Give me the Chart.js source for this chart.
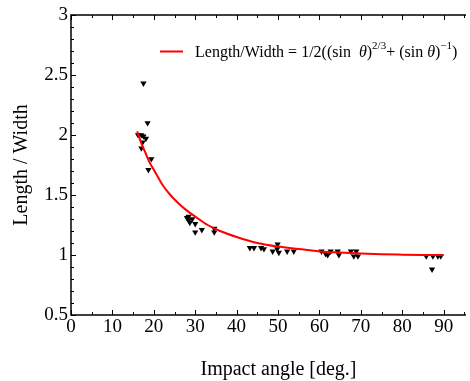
<!DOCTYPE html>
<html><head><meta charset="utf-8">
<script src="https://cdn.jsdelivr.net/npm/chart.js@4.4.0/dist/chart.umd.min.js"></script>
<style>html,body{margin:0;padding:0;background:#fff;}#wrap{width:470px;height:381px;}</style>
</head><body><div id="wrap"><canvas id="c" width="470" height="381"></canvas></div>
<script>
// Measured points (impact angle in degrees, length/width ratio)
const angles = [16.2,17.0,17.5,18.1,17.3,17.0,17.5,18.5,19.4,18.7,
  28.0,28.4,28.4,28.7,29.3,30.0,30.0,31.6,34.6,34.6,
  43.2,44.2,45.9,46.6,48.7,49.9,49.8,50.2,52.2,53.8,
  60.5,61.5,62.0,62.7,64.4,64.7,67.6,68.9,68.3,69.3,
  85.8,87.4,88.6,89.3,87.2];
const ratios = [2.00,2.00,1.99,1.97,1.94,1.89,2.43,2.10,1.80,1.71,
  1.31,1.32,1.29,1.27,1.30,1.26,1.19,1.21,1.22,1.19,
  1.06,1.06,1.06,1.05,1.03,1.09,1.05,1.02,1.03,1.03,
  1.03,1.01,1.00,1.03,1.03,1.00,1.03,1.03,0.99,0.99,
  0.99,0.99,0.99,0.99,0.88];
// Fitted curve
const fitAngles = [16,17,18,19,20,21,22,24,26,28,30,33,36,40,45,50,55,60,65,70,75,80,85,90];
const fitRatios = [2.03,1.93,1.85,1.77,1.71,1.65,1.59,1.50,1.43,1.37,1.32,1.25,1.20,1.15,1.10,1.07,1.05,1.03,1.02,1.012,1.006,1.003,1.001,1.00];
const xTickValues = [0,10,20,30,40,50,60,70,80,90];
const yTickValues = [0.5,1,1.5,2,2.5,3];
const xTitle = 'Impact angle [deg.]';
const yTitle = 'Length / Width';

const FONT = '"Liberation Serif", "Times New Roman", serif';

const framePlugin = {
  id: 'frame',
  beforeDatasetsDraw(chart) {
    const ctx = chart.ctx, a = chart.chartArea;
    const xs = chart.scales.x, ys = chart.scales.y;
    ctx.save();
    ctx.strokeStyle = '#000';
    ctx.lineWidth = 1;
    ctx.beginPath();
    for (let v = 0; v <= xs.max + 0.001; v += 5) {
      const px = Math.round(xs.getPixelForValue(v)) + 0.5;
      const len = (v % 10 === 0) ? 5 : 3;
      ctx.moveTo(px, a.bottom); ctx.lineTo(px, a.bottom - len);
      ctx.moveTo(px, a.top); ctx.lineTo(px, a.top + len);
    }
    for (let i = 5; i <= 30; i++) {
      const v = i / 10;
      const py = Math.round(ys.getPixelForValue(v)) + 0.5;
      const len = (i % 5 === 0) ? 5 : 3;
      ctx.moveTo(a.left, py); ctx.lineTo(a.left + len, py);
    }
    ctx.stroke();
    ctx.lineWidth = 1.5;
    ctx.beginPath();
    ctx.moveTo(a.right, a.top); ctx.lineTo(a.left, a.top);
    ctx.lineTo(a.left, a.bottom); ctx.lineTo(a.right, a.bottom);
    ctx.stroke();
    ctx.fillStyle = '#000';
    ctx.font = '20px ' + FONT;
    ctx.textAlign = 'center';
    ctx.textBaseline = 'middle';
    ctx.fillText(xTitle, 278.5, 370);
    ctx.restore();
  },
  afterDraw(chart) {
    const ctx = chart.ctx;
    ctx.save();
    ctx.strokeStyle = '#ff0000';
    ctx.lineWidth = 2;
    ctx.beginPath(); ctx.moveTo(160, 51.5); ctx.lineTo(183, 51.5); ctx.stroke();
    ctx.fillStyle = '#000';
    ctx.textBaseline = 'alphabetic';
    ctx.textAlign = 'left';
    const base = 57, sup = 49;
    const segs = [
      ['Length/Width = 1/2((sin  ', 'n', base],
      ['θ', 'i', base],
      [')', 'n', base],
      ['2/3', 's', sup],
      ['+ (sin ', 'n', base],
      ['θ', 'i', base],
      [')', 'n', base],
      ['−1', 's', sup],
      [')', 'n', base]
    ];
    let x = 195;
    for (const [t, st, y] of segs) {
      if (st === 'n') ctx.font = '16px ' + FONT;
      else if (st === 'i') ctx.font = 'italic 16px ' + FONT;
      else ctx.font = '11px ' + FONT;
      ctx.fillText(t, x, y);
      x += ctx.measureText(t).width;
    }
    ctx.restore();
  }
};

new Chart(document.getElementById('c'), {
  type: 'scatter',
  data: {
    datasets: [
      {
        label: 'fit',
        data: fitAngles.map((a, i) => ({x: a, y: fitRatios[i]})),
        showLine: true,
        borderColor: '#ff0000',
        borderWidth: 2,
        pointRadius: 0,
        cubicInterpolationMode: 'monotone',
        fill: false
      },
      {
        label: 'data',
        data: angles.map((a, i) => ({x: a, y: ratios[i]})),
        pointStyle: 'triangle',
        rotation: 180,
        pointRadius: 3.6,
        backgroundColor: '#000',
        borderColor: '#000',
        borderWidth: 0
      }
    ]
  },
  options: {
    responsive: false,
    animation: false,
    devicePixelRatio: 1,
    layout: {padding: {top: 15, right: 0, left: 0, bottom: 0}},
    plugins: {legend: {display: false}, tooltip: {enabled: false}},
    scales: {
      x: {
        type: 'linear', min: 0, max: 95.4,
        afterBuildTicks: s => { s.ticks = xTickValues.map(v => ({value: v})); },
        afterFit: s => { s.height = 66; },
        grid: {display: false, drawTicks: false},
        border: {display: false},
        ticks: {color: '#000', font: {family: FONT, size: 19}, padding: 1, maxRotation: 0, autoSkip: false},
        title: {display: false}
      },
      y: {
        type: 'linear', min: 0.5, max: 3,
        afterBuildTicks: s => { s.ticks = yTickValues.map(v => ({value: v})); },
        afterFit: s => { s.width = 71; },
        grid: {display: false, drawTicks: false},
        border: {display: false},
        ticks: {color: '#000', font: {family: FONT, size: 19}, padding: 3, autoSkip: false,
          callback: v => String(v)},
        title: {display: true, text: yTitle, color: '#000', font: {family: FONT, size: 20, lineHeight: 1.1}, padding: {top: 11, bottom: 0}}
      }
    }
  },
  plugins: [framePlugin]
});
</script></body></html>
